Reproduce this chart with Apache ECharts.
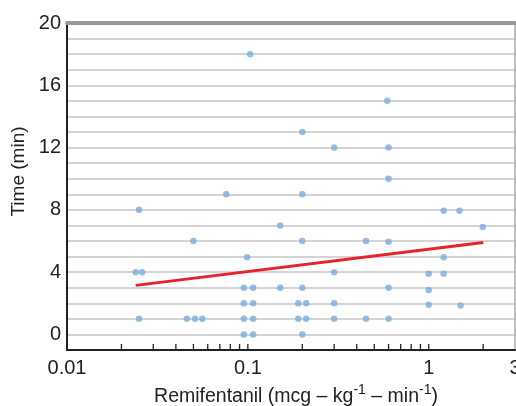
<!DOCTYPE html>
<html>
<head>
<meta charset="utf-8">
<script src="https://cdn.jsdelivr.net/npm/echarts@6/dist/echarts.min.js"></script>
<style>html,body{margin:0;padding:0;background:#fff;}#c{width:516px;height:406px;}</style>
</head>
<body>
<div id="c"></div>
<script>
// Remifentanil dose (mcg/kg/min) vs Time (min)
const doses = [
  0.103, 0.59, 0.2, 0.3, 0.6, 0.6, 0.2, 0.076,
  0.025, 1.21, 1.48, 0.151, 1.99, 0.05, 0.2, 0.45, 0.6,
  0.099, 1.21, 0.024, 0.026, 0.3, 1.0, 1.21,
  0.095, 0.107, 0.151, 0.2, 0.6, 1.0,
  0.095, 0.107, 0.19, 0.21, 0.3, 1.0, 1.5,
  0.025, 0.046, 0.051, 0.056, 0.095, 0.107, 0.19, 0.21, 0.3, 0.45, 0.6,
  0.095, 0.107, 0.2
];
const times = [
  18, 15, 13, 12, 12, 10, 9, 9,
  8, 7.95, 7.95, 7, 6.9, 6, 6, 6, 5.95,
  4.95, 4.95, 4, 4, 4, 3.9, 3.9,
  3, 3, 3, 3, 3, 2.85,
  2, 2, 2, 2, 2, 1.9, 1.85,
  1, 1, 1, 1, 1, 1, 1, 1, 1, 1, 1,
  0, 0, 0
];
const fitDoses = [0.024, 2.0];
const fitTimes = [3.15, 5.9];
const minorTickValues = [0.02,0.03,0.04,0.05,0.06,0.07,0.08,0.09,0.1,0.2,0.3,0.4,0.5,0.6,0.7,0.8,0.9,1,2];
const yTickLabels = [0, 4, 8, 12, 16, 20];

const font = "'Liberation Sans', Arial, Helvetica, sans-serif";
const chart = echarts.init(document.getElementById('c'));
const yMin = -1, yMax = 20;
chart.setOption({
  animation: false,
  grid: {left: 67, top: 23, right: 1, bottom: 56, containLabel: false, outerBoundsMode: 'none'},
  xAxis: [{
    type: 'log', logBase: 10, min: 0.01, max: 3,
    position: 'bottom',
    name: '{a|Remifentanil (mcg – kg}{s|-1}{a| – min}{s|-1}{a|)}',
    nameLocation: 'middle', nameGap: 29,
    nameTextStyle: {
      padding: [0, 0, 0, 10],
      rich: {
        a: {fontFamily: font, fontSize: 19.5, color: '#222', lineHeight: 24, verticalAlign: 'bottom'},
        s: {fontFamily: font, fontSize: 14, color: '#222', lineHeight: 24, verticalAlign: 'top', padding: [0,0,6,0]}
      }
    },
    axisLine: {show: true, onZero: false, lineStyle: {color: '#222', width: 2}},
    axisTick: {show: false},
    minorTick: {show: false},
    splitLine: {show: false},
    axisLabel: {fontFamily: font, fontSize: 20, color: '#222', margin: 8,
      formatter: v => String(Math.round(v * 100) / 100)}
  }, {
    type: 'log', logBase: 10, min: 0.01, max: 3,
    position: 'top',
    axisLine: {show: true, onZero: false, lineStyle: {color: '#999', width: 4}},
    axisTick: {show: false}, axisLabel: {show: false}, splitLine: {show: false}
  }],
  yAxis: [{
    type: 'value', min: yMin, max: yMax, interval: 1,
    name: 'Time (min)', nameLocation: 'middle', nameGap: 38, nameRotate: 90,
    nameTextStyle: {fontFamily: font, fontSize: 19, color: '#222', padding: [0, 0, 0, 30]},
    axisLine: {show: true, onZero: false, lineStyle: {color: '#222', width: 2}},
    axisTick: {show: false},
    splitLine: {show: true, lineStyle: {color: '#c6c6ca', width: 1.5}},
    axisLabel: {fontFamily: font, fontSize: 20, color: '#222', margin: 6,
      formatter: v => yTickLabels.indexOf(v) >= 0 ? String(v) : ''}
  }, {
    type: 'value', min: yMin, max: yMax, interval: 1, position: 'right',
    axisLine: {show: true, onZero: false, lineStyle: {color: '#aaa', width: 1.5}},
    axisTick: {show: false}, axisLabel: {show: false}, splitLine: {show: false}
  }],
  series: [{
    type: 'custom',
    xAxisIndex: 0, yAxisIndex: 0,
    data: minorTickValues.map(v => [v, yMin]),
    silent: true,
    renderItem: (params, api) => {
      const p = api.coord([api.value(0), yMin]);
      return {type: 'line', shape: {x1: p[0], y1: p[1], x2: p[0], y2: p[1] - 6},
        style: {stroke: '#222', lineWidth: 1.3}};
    },
    z: 5
  }, {
    type: 'scatter',
    xAxisIndex: 0, yAxisIndex: 0,
    data: doses.map((d, i) => [d, times[i]]),
    symbolSize: 6.5,
    itemStyle: {color: '#79aee0'},
    z: 3
  }, {
    type: 'line',
    xAxisIndex: 0, yAxisIndex: 0,
    data: fitDoses.map((d, i) => [d, fitTimes[i]]),
    showSymbol: false, symbol: 'none',
    lineStyle: {color: '#e8222a', width: 3},
    z: 4
  }]
});
</script>
</body>
</html>
